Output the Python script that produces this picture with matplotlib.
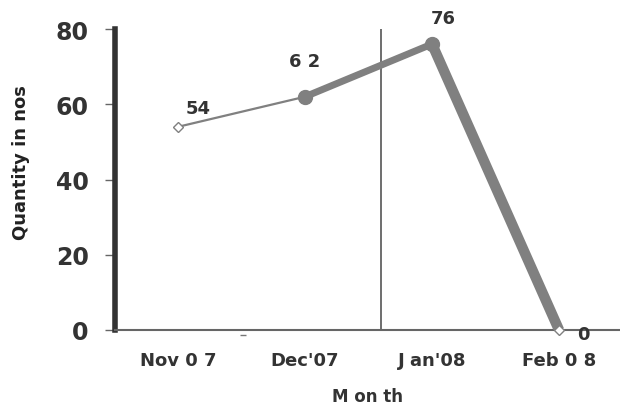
import matplotlib
matplotlib.use("Agg")
import matplotlib.pyplot as plt

plt.rcParams['font.family'] = ['DejaVu Sans']

# data
months = ["Nov 0 7", "Dec'07", "J an'08", "Feb 0 8"]
quantity = [54, 62, 76, 0]
point_labels = ["54", "6 2", "76", "0"]
yticks = [0, 20, 40, 60, 80]

fig = plt.figure(figsize=(6.2, 4.06), dpi=100)
ax = fig.add_axes([115/620, 75/406, 505/620, 301/406])

x = list(range(len(months)))
grey = "#808080"
# segments get thicker to the right
widths = [1.6, 5.0, 7.5]
for i in range(len(x) - 1):
    ax.plot(x[i:i+2], quantity[i:i+2], color=grey, lw=widths[i],
            solid_capstyle="butt", zorder=3)
ax.plot(x[1:3], quantity[1:3], "o", color=grey, ms=10, zorder=4)
ax.plot([x[0], x[3]], [quantity[0], quantity[3]], "D", mfc="white",
        mec=grey, ms=5, mew=1, zorder=4, clip_on=False)

# value labels
offs = [(0.157, 5.0), (0.0, 9.5), (0.087, 6.9), (0.19, -1.1)]
for xi, yi, t, (dx, dy) in zip(x, quantity, point_labels, offs):
    ax.text(xi + dx, yi + dy, t, fontsize=13, fontweight="bold",
            color="#333333", ha="center", va="center")

# vertical marker line
ax.axvline(1.6, color="#555555", lw=1.2, zorder=2)
# little stray dash under the axis
ax.plot([0.51], [-1.4], "_", color="#777777", ms=5, clip_on=False)

ax.set_xlim(-0.496, 3.48)
ax.set_ylim(0, 80)
ax.set_xticks(x)
ax.set_xticklabels(months, fontsize=13, fontweight="bold", color="#333333")
ax.set_yticks(yticks)
ax.set_yticklabels([str(v) for v in yticks], fontsize=17, fontweight="bold",
                   color="#333333")
ax.tick_params(axis="x", length=0, pad=15)
ax.tick_params(axis="y", length=7, width=1, color="#666666", pad=12)

for s in ["top", "right"]:
    ax.spines[s].set_visible(False)
ax.spines["left"].set_linewidth(4)
ax.spines["left"].set_color("#333333")
ax.spines["bottom"].set_linewidth(1.5)
ax.spines["bottom"].set_color("#666666")

ax.set_ylabel("Quantity in nos", fontsize=13, fontweight="bold",
              color="#222222")
ax.set_xlabel("M on th", fontsize=12, fontweight="bold", color="#333333")
ax.yaxis.set_label_coords(-0.168, 0.56)
ax.xaxis.set_label_coords(0.5, -0.19)

fig.savefig("out.png", dpi=100)
